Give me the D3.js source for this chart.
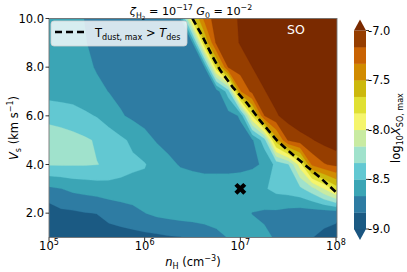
<!DOCTYPE html>
<html>
<head>
<meta charset="utf-8">
<script src="https://cdn.jsdelivr.net/npm/d3@7"></script>
<style>
body { margin: 0; background: #fff; }
text { font-family: "DejaVu Sans", sans-serif; fill: #000; }
</style>
</head>
<body>
<div id="chart"></div>
<script>
// grid columns: log10 nH (cm^-3)
var logN = [5.0, 5.125, 5.25, 5.375, 5.5, 5.625, 5.75, 5.875, 6.0, 6.125, 6.25, 6.375, 6.5,
            6.625, 6.75, 6.875, 7.0, 7.125, 7.25, 7.375, 7.5, 7.625, 7.75, 7.875, 8.0];
// grid rows: shock velocity (km/s), bottom row first
var vs = [1, 2, 3, 4, 5, 6, 7, 8, 9, 10];

// log10 X(SO) max, one row per vs value
var logX = [
  [-8.97,-8.94,-8.93,-8.93,-8.92,-8.91,-8.90,-8.89,-8.88,-8.87,-8.85,-8.84,-8.82,-8.77,-8.71,-8.66,-8.62,-8.62,-8.64,-8.68,-8.73,-8.78,-8.83,-8.87,-8.92],
  [-8.93,-8.87,-8.86,-8.84,-8.83,-8.78,-8.75,-8.72,-8.67,-8.63,-8.61,-8.59,-8.58,-8.58,-8.59,-8.61,-8.63,-8.67,-8.69,-8.70,-8.73,-8.75,-8.76,-8.77,-8.77],
  [-8.70,-8.67,-8.63,-8.61,-8.59,-8.58,-8.57,-8.56,-8.55,-8.55,-8.56,-8.57,-8.58,-8.58,-8.58,-8.58,-8.58,-8.57,-8.52,-8.45,-8.42,-8.37,-8.23,-8.00,-7.75],
  [-8.32,-8.32,-8.32,-8.32,-8.33,-8.35,-8.42,-8.47,-8.49,-8.57,-8.63,-8.68,-8.70,-8.72,-8.72,-8.72,-8.71,-8.69,-8.65,-8.45,-8.35,-7.92,-7.30,-7.18,-7.13],
  [-8.25,-8.26,-8.28,-8.31,-8.35,-8.41,-8.47,-8.53,-8.61,-8.68,-8.72,-8.73,-8.74,-8.75,-8.75,-8.74,-8.73,-8.69,-8.42,-7.58,-7.15,-7.07,-7.01,-6.95,-6.90],
  [-8.38,-8.40,-8.43,-8.47,-8.51,-8.58,-8.65,-8.70,-8.73,-8.75,-8.76,-8.77,-8.77,-8.77,-8.76,-8.73,-8.65,-7.83,-7.17,-7.02,-6.93,-6.87,-6.83,-6.82,-6.80],
  [-8.57,-8.58,-8.58,-8.61,-8.63,-8.67,-8.71,-8.73,-8.75,-8.77,-8.78,-8.78,-8.78,-8.78,-8.75,-8.42,-7.35,-7.12,-7.01,-6.93,-6.88,-6.83,-6.83,-6.83,-6.83],
  [-8.55,-8.56,-8.58,-8.63,-8.68,-8.71,-8.73,-8.75,-8.77,-8.78,-8.78,-8.78,-8.77,-8.68,-7.73,-7.15,-7.08,-7.00,-6.92,-6.87,-6.83,-6.83,-6.83,-6.83,-6.83],
  [-8.54,-8.57,-8.60,-8.66,-8.70,-8.73,-8.75,-8.77,-8.78,-8.78,-8.77,-8.75,-8.67,-7.67,-7.13,-7.07,-6.99,-6.92,-6.87,-6.83,-6.83,-6.83,-6.83,-6.83,-6.83],
  [-8.57,-8.60,-8.63,-8.67,-8.70,-8.73,-8.75,-8.77,-8.77,-8.77,-8.75,-8.68,-7.75,-7.28,-7.08,-7.03,-6.99,-6.90,-6.85,-6.82,-6.80,-6.78,-6.78,-6.78,-6.78]
];

// Tdust,max = Tdes boundary
var tdesLogN = [6.50, 6.61, 6.714, 6.79, 6.92, 7.07, 7.205, 7.38, 7.52, 7.655, 7.83, 8.0];
var tdesVs   = [10.0, 9.22, 8.40, 7.87, 7.18, 6.52, 5.81, 5.00, 4.50, 4.05, 3.48, 2.86];

// marked model
var markN = [1e7];
var markVs = [3.0];

// contour levels -9 .. -7 (12 bands) and their colours
var levels = d3.range(13).map(function(k) { return -9 + k * 2 / 12; });
var bandColors = ["#1b5a83", "#2e7ca3", "#3ba5b5", "#62c8d2", "#a0e2cc", "#c9eba2",
                  "#f5f56c", "#e0e033", "#ccb80c", "#d18b00", "#c96303", "#963e00", "#7a2a00"];
var underColor = "#1a5580";

var xTicks = [1e5, 1e6, 1e7, 1e8];
var yTicks = [2, 4, 6, 8, 10];
var cbTicks = [-9, -8.5, -8, -7.5, -7];

var W = 407, H = 272;
var pL = 49, pR = 337, pT = 18.5, pB = 237.5;

var svg = d3.select("#chart").append("svg")
    .attr("width", W)
    .attr("height", H);

var x = d3.scaleLog().domain([1e5, 1e8]).range([pL, pR - 1]);
var y = d3.scaleLinear().domain([1, 10]).range([pB, pT]);

// rich text helper: parts with sub / sup / italic
function rich(sel, parts, fs) {
    var off = 0;
    parts.forEach(function(p) {
        var target = 0, size = fs;
        if (p.sub) { target = fs * 0.3; size = fs * 0.7; }
        if (p.sub2) { target = fs * 0.5; size = fs * 0.5; }
        if (p.sup) { target = -fs * 0.42; size = fs * 0.7; }
        var ts = sel.append("tspan").attr("dy", target - off).text(p.t);
        if (size != fs) ts.attr("font-size", size);
        if (p.it) ts.attr("font-style", "italic");
        off = target;
    });
}

svg.append("clipPath").attr("id", "plotclip")
  .append("rect")
    .attr("x", pL).attr("y", pT)
    .attr("width", pR - pL).attr("height", pB - pT);

var plot = svg.append("g").attr("clip-path", "url(#plotclip)");

// filled contours
var nx = logN.length, ny = vs.length;
var values = [].concat.apply([], logX);
var contours = d3.contours().size([nx, ny]).thresholds(levels)(values);
var dN = logN[1] - logN[0], dV = vs[1] - vs[0];
var proj = d3.geoTransform({
    point: function(gx, gy) {
        var ln = logN[0] + (gx - 0.5) * dN;
        var v = vs[0] + (gy - 0.5) * dV;
        this.stream.point(x(Math.pow(10, ln)), y(v));
    }
});
var gpath = d3.geoPath(proj);

plot.append("rect")
    .attr("x", pL).attr("y", pT)
    .attr("width", pR - pL).attr("height", pB - pT)
    .attr("fill", underColor);

plot.selectAll("path.band")
    .data(contours)
  .enter().append("path")
    .attr("class", "band")
    .attr("d", gpath)
    .attr("fill", function(d, i) { return bandColors[i]; })
    .attr("stroke", function(d, i) { return bandColors[i]; })
    .attr("stroke-width", 0.3);

// dashed Tdes line
var tdes = tdesLogN.map(function(n, i) { return [Math.pow(10, n), tdesVs[i]]; });
plot.append("path")
    .datum(tdes)
    .attr("d", d3.line().x(function(d) { return x(d[0]); }).y(function(d) { return y(d[1]); }))
    .attr("fill", "none")
    .attr("stroke", "#000")
    .attr("stroke-width", 2.6)
    .attr("stroke-dasharray", "7,4");

// marker
plot.selectAll("path.mark")
    .data(markN)
  .enter().append("path")
    .attr("class", "mark")
    .attr("d", d3.symbol().type(d3.symbolCross).size(88))
    .attr("transform", function(d, i) { return "translate(" + x(d) + "," + y(markVs[i]) + ") rotate(45)"; })
    .attr("fill", "#000");

plot.append("text")
    .attr("x", 296).attr("y", 34)
    .attr("text-anchor", "middle")
    .attr("font-size", 12.5)
    .style("fill", "#fff")
    .text("SO");

// legend
var leg = svg.append("g");
leg.append("rect")
    .attr("x", 51).attr("y", 21)
    .attr("width", 136).attr("height", 25)
    .attr("rx", 3)
    .attr("fill", "#fff").attr("fill-opacity", 0.8)
    .attr("stroke", "#d0d0d0").attr("stroke-width", 0.8);
leg.append("line")
    .attr("x1", 55).attr("x2", 86)
    .attr("y1", 32).attr("y2", 32)
    .attr("stroke", "#000").attr("stroke-width", 2.6)
    .attr("stroke-dasharray", "7,4");
rich(leg.append("text").attr("x", 95).attr("y", 37).attr("font-size", 11.5),
    [{t: "T"}, {t: "dust, max", sub: true}, {t: " > "}, {t: "T", it: true}, {t: "des", sub: true}], 11.5);

// frame
svg.append("rect")
    .attr("x", pL).attr("y", pT)
    .attr("width", pR - pL).attr("height", pB - pT)
    .attr("fill", "none").attr("stroke", "#777").attr("stroke-width", 0.9);

// x axis
var xt = svg.append("g");
xt.selectAll("line").data(xTicks).enter().append("line")
    .attr("x1", function(d) { return x(d); }).attr("x2", function(d) { return x(d); })
    .attr("y1", pB).attr("y2", pB + 3.5)
    .attr("stroke", "#000").attr("stroke-width", 0.8);
xt.selectAll("text").data(xTicks).enter().append("text")
    .attr("x", function(d) { return x(d); })
    .attr("y", 250)
    .attr("text-anchor", "middle")
    .attr("font-size", 11.5)
    .each(function(d) {
        rich(d3.select(this), [{t: "10"}, {t: String(Math.round(Math.log10(d))), sup: true}], 11.5);
    });

// y axis
var yt = svg.append("g");
yt.selectAll("line").data(yTicks).enter().append("line")
    .attr("x1", pL - 3.5).attr("x2", pL)
    .attr("y1", function(d) { return y(d); }).attr("y2", function(d) { return y(d); })
    .attr("stroke", "#000").attr("stroke-width", 0.8);
yt.selectAll("text").data(yTicks).enter().append("text")
    .attr("x", 44)
    .attr("y", function(d) { return y(d) + 4; })
    .attr("text-anchor", "end")
    .attr("font-size", 11.5)
    .text(function(d) { return d.toFixed(1); });

// axis labels and title
rich(svg.append("text").attr("x", 193).attr("y", 266).attr("text-anchor", "middle").attr("font-size", 11.5),
    [{t: "n", it: true}, {t: "H", sub: true}, {t: " (cm"}, {t: "\u22123", sup: true}, {t: ")"}], 11.5);

rich(svg.append("text").attr("transform", "translate(18,128) rotate(-90)").attr("text-anchor", "middle").attr("font-size", 11.5),
    [{t: "V", it: true}, {t: "s", sub: true}, {t: " (km s"}, {t: "\u22121", sup: true}, {t: ")"}], 11.5);

rich(svg.append("text").attr("x", 191).attr("y", 14.5).attr("text-anchor", "middle").attr("font-size", 11.2),
    [{t: "\u03b6", it: true}, {t: "H", sub: true}, {t: "2", sub2: true}, {t: " = 10"}, {t: "\u221217", sup: true},
     {t: " "}, {t: "G", it: true}, {t: "0", sub: true}, {t: " = 10"}, {t: "\u22122", sup: true}], 11.2);

// colorbar
var cbX = 354, cbW = 12;
var cy = d3.scaleLinear().domain([-9, -7]).range([229, 30.5]);
var cb = svg.append("g");
var bands = d3.range(12);
cb.selectAll("rect").data(bands).enter().append("rect")
    .attr("x", cbX)
    .attr("y", function(k) { return cy(levels[k + 1]); })
    .attr("width", cbW)
    .attr("height", function(k) { return cy(levels[k]) - cy(levels[k + 1]) + 0.3; })
    .attr("fill", function(k) { return bandColors[k]; });
cb.append("path")
    .attr("d", "M" + cbX + "," + cy(-7) + "L" + (cbX + cbW / 2) + ",19.5L" + (cbX + cbW) + "," + cy(-7) + "Z")
    .attr("fill", bandColors[12]);
cb.append("path")
    .attr("d", "M" + cbX + "," + cy(-9) + "L" + (cbX + cbW / 2) + ",240L" + (cbX + cbW) + "," + cy(-9) + "Z")
    .attr("fill", underColor);
cb.selectAll("line").data(cbTicks).enter().append("line")
    .attr("x1", cbX + cbW).attr("x2", cbX + cbW + 3)
    .attr("y1", function(d) { return cy(d); }).attr("y2", function(d) { return cy(d); })
    .attr("stroke", "#000").attr("stroke-width", 0.8);
cb.selectAll("text").data(cbTicks).enter().append("text")
    .attr("x", cbX + cbW + 2)
    .attr("y", function(d) { return cy(d) + 4; })
    .attr("font-size", 11.5)
    .text(function(d) { return d.toFixed(1); });

rich(svg.append("text").attr("transform", "translate(400,128) rotate(-90)").attr("text-anchor", "middle").attr("font-size", 11.5),
    [{t: "log"}, {t: "10", sub: true}, {t: "X", it: true}, {t: "SO, max", sub: true}], 11.5);
</script>
</body>
</html>
